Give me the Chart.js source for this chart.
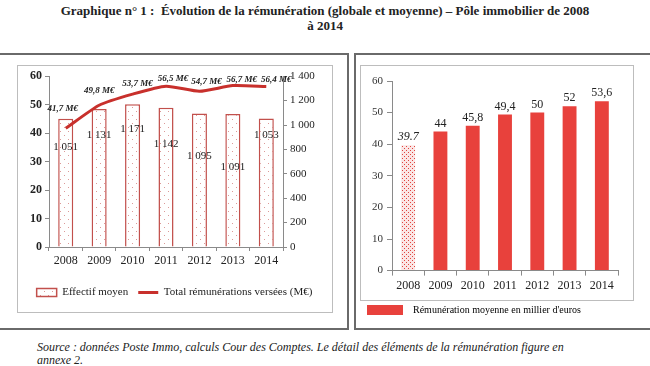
<!DOCTYPE html>
<html lang="fr">
<head>
<meta charset="utf-8">
<title>Évolution de la rémunération – Pôle immobilier</title>
<script src="https://cdn.jsdelivr.net/npm/chart.js@4.4.0/dist/chart.umd.min.js"></script>
<style>
  * { box-sizing: border-box; }
  body { margin: 0; width: 650px; height: 366px; background: #fff; position: relative; overflow: hidden; font-family: "Liberation Serif", "DejaVu Serif", serif; color: #222; }
  .title { position: absolute; top: 3px; left: 0; width: 650px; text-align: center; font-weight: bold; font-size: 13px; line-height: 15px; }
  .outer { position: absolute; border: 2px solid #6a6a6a; }
  .inner { position: absolute; border: 1px solid #bdbdbd; pointer-events: none; }
  .wrap { position: absolute; }
  .source { position: absolute; left: 37px; top: 341px; font-style: italic; font-size: 12px; line-height: 13px; }
</style>
</head>
<body>
<div class="title">Graphique n° 1 :&nbsp; Évolution de la rémunération (globale et moyenne) – Pôle immobilier de 2008<br>à 2014</div>

<div class="outer" style="left:-5px;top:53px;width:354px;height:277px;"></div>
<div class="outer" style="left:354px;top:53px;width:300px;height:277px;"></div>
<div class="inner" style="left:17px;top:65px;width:316px;height:248px;"></div>
<div class="inner" style="left:360px;top:65px;width:274px;height:236px;"></div>

<div class="wrap" style="left:18px;top:66px;width:313px;height:245px;"><canvas id="chartGauche"></canvas></div>
<div class="wrap" style="left:358px;top:66px;width:280px;height:259px;"><canvas id="chartDroite"></canvas></div>

<div class="source">Source : données Poste Immo, calculs Cour des Comptes. Le détail des éléments de la rémunération figure en<br>annexe 2.</div>

<script>
  // --- DONNEES ---
  const annees = ["2008", "2009", "2010", "2011", "2012", "2013", "2014"];
  const effectifMoyen = [1051, 1131, 1171, 1142, 1095, 1091, 1053];
  const totalRemunerations = [41.7, 49.8, 53.7, 56.5, 54.7, 56.7, 56.4];
  const remunerationMoyenne = [39.7, 44, 45.8, 49.4, 50, 52, 53.6];
  const ticksGauche = [0, 10, 20, 30, 40, 50, 60];
  const ticksEffectif = [0, 200, 400, 600, 800, 1000, 1200, 1400];

  // decalages des etiquettes (style, en px)
  const decalEffectif = [28, 26, 25, 36, 43, 53, 17];
  const decalTotalX = [-3, 0, 5, 7, 7, 9, 10];
  const decalTotalY = [-20, -15, -10, -7, -10, -6, -7];

  const SERIF = "'Liberation Serif', 'DejaVu Serif', serif";
  const ROUGE_LIGNE = "#c8302c";
  const ROUGE_BORD = "#c2504c";
  const ROUGE_BARRE = "#e8413c";
  const GRIS_AXE = "#8a8a8a";

  const milliers = (v) => String(v).replace(/\B(?=(\d{3})+(?!\d))/g, " ");
  const virgule = (v) => String(v).replace(".", ",");

  // --- MOTIFS ---
  function motif(ctx, w, h, fond, couleur, points) {
    const c = document.createElement("canvas");
    c.width = w;
    c.height = h;
    const g = c.getContext("2d");
    g.fillStyle = fond;
    g.fillRect(0, 0, w, h);
    g.fillStyle = couleur;
    points.forEach(([x, y]) => g.fillRect(x, y, 1, 1));
    return ctx.createPattern(c, "repeat");
  }

  // --- PLUGIN ETIQUETTES ---
  const etiquettes = {
    id: "etiquettes",
    afterDatasetsDraw(chart, args, opts) {
      const { ctx } = chart;
      (opts.items || []).forEach((it) => {
        const meta = chart.getDatasetMeta(it.dataset);
        const data = chart.data.datasets[it.dataset].data;
        meta.data.forEach((el, j) => {
          ctx.save();
          ctx.font = typeof it.font === "function" ? it.font(j) : it.font;
          ctx.fillStyle = it.color;
          ctx.textAlign = "center";
          ctx.textBaseline = "middle";
          ctx.fillText(it.text(data[j], j), el.x + (it.dx ? it.dx[j] : 0), el.y + it.dy[j]);
          ctx.restore();
        });
      });
    },
  };

  const axeBase = {
    grid: { drawOnChartArea: false, tickLength: 4, color: GRIS_AXE },
    border: { color: GRIS_AXE },
  };

  // --- GRAPHIQUE GAUCHE ---
  const ctxG = document.getElementById("chartGauche").getContext("2d");
  const motifEffectif = motif(ctxG, 8, 8, "#ffffff", "#dc9a98", [[2, 1], [6, 5]]);

  new Chart(ctxG, {
    data: {
      labels: annees,
      datasets: [
        {
          type: "line",
          label: "Total rémunérations versées (M€)",
          data: totalRemunerations,
          yAxisID: "y",
          borderColor: ROUGE_LIGNE,
          backgroundColor: ROUGE_LIGNE,
          borderWidth: 3,
          pointRadius: 0,
          tension: 0.2,
          pointStyle: "line",
          order: 0,
        },
        {
          type: "bar",
          label: "Effectif moyen",
          data: effectifMoyen,
          yAxisID: "y1",
          backgroundColor: motifEffectif,
          borderColor: ROUGE_BORD,
          borderWidth: 1.5,
          categoryPercentage: 1,
          barPercentage: 0.45,
          pointStyle: "rect",
          order: 1,
        },
      ],
    },
    options: {
      responsive: true,
      maintainAspectRatio: false,
      animation: false,
      layout: { padding: { top: 9, left: 0, right: 0, bottom: 3 } },
      scales: {
        x: {
          ...axeBase,
          afterFit: (s) => { s.height = 30; },
          ticks: { font: { family: SERIF, size: 12 }, color: "#222", padding: 3 },
        },
        y: {
          ...axeBase,
          position: "left",
          min: 0,
          max: 60,
          afterBuildTicks: (s) => { s.ticks = ticksGauche.map((v) => ({ value: v })); },
          afterFit: (s) => { s.width = 31; },
          ticks: { font: { family: SERIF, size: 12, weight: "bold" }, color: "#222", padding: 3 },
        },
        y1: {
          ...axeBase,
          position: "right",
          min: 0,
          max: 1400,
          afterBuildTicks: (s) => { s.ticks = ticksEffectif.map((v) => ({ value: v })); },
          afterFit: (s) => { s.width = 48; },
          ticks: { font: { family: SERIF, size: 11 }, color: "#222", padding: 3, callback: (v) => milliers(v) },
        },
      },
      plugins: {
        tooltip: { enabled: false },
        legend: {
          position: "bottom",
          reverse: true,
          labels: {
            usePointStyle: true,
            pointStyleWidth: 20,
            boxHeight: 8,
            padding: 10,
            color: "#222",
            font: { family: SERIF, size: 11 },
          },
        },
        etiquettes: {
          items: [
            {
              dataset: 1,
              font: `11px ${SERIF}`,
              color: "#222",
              dy: decalEffectif,
              text: (v) => milliers(v),
            },
            {
              dataset: 0,
              font: `italic bold 9px ${SERIF}`,
              color: "#222",
              dx: decalTotalX,
              dy: decalTotalY,
              text: (v) => virgule(v) + " M€",
            },
          ],
        },
      },
    },
    plugins: [etiquettes],
  });

  // --- GRAPHIQUE DROITE ---
  const ctxD = document.getElementById("chartDroite").getContext("2d");
  const motifMoyenne = motif(ctxD, 4, 4, "#fbe6e5", "#e0443f", [[0, 0], [2, 2]]);

  new Chart(ctxD, {
    type: "bar",
    data: {
      labels: annees,
      datasets: [
        {
          label: "Rémunération moyenne en millier d'euros",
          data: remunerationMoyenne,
          backgroundColor: remunerationMoyenne.map((v, i) => (i === 0 ? motifMoyenne : ROUGE_BARRE)),
          borderWidth: 0,
          categoryPercentage: 1,
          barPercentage: 0.43,
        },
      ],
    },
    options: {
      responsive: true,
      maintainAspectRatio: false,
      animation: false,
      layout: { padding: { top: 15, left: 0, right: 20, bottom: 0 } },
      scales: {
        x: {
          grid: { drawOnChartArea: false, tickLength: 5, color: GRIS_AXE },
          border: { color: GRIS_AXE },
          ticks: { font: { family: SERIF, size: 12 }, color: "#222", padding: 3 },
        },
        y: {
          grid: { drawOnChartArea: false, tickLength: 5, color: GRIS_AXE },
          border: { color: GRIS_AXE },
          min: 0,
          max: 60,
          afterBuildTicks: (s) => { s.ticks = ticksGauche.map((v) => ({ value: v })); },
          afterFit: (s) => { s.width = 34; },
          ticks: { font: { family: SERIF, size: 11 }, color: "#333", padding: 4 },
        },
      },
      plugins: {
        tooltip: { enabled: false },
        legend: {
          position: "bottom",
          align: "start",
          labels: {
            boxWidth: 36,
            boxHeight: 10,
            padding: 9,
            color: "#222",
            font: { family: SERIF, size: 10 },
            generateLabels: (chart) => [
              {
                text: "  " + chart.data.datasets[0].label,
                fillStyle: ROUGE_BARRE,
                strokeStyle: ROUGE_BARRE,
                lineWidth: 0,
                datasetIndex: 0,
              },
            ],
          },
        },
        etiquettes: {
          items: [
            {
              dataset: 0,
              font: (j) => (j === 0 ? `italic 12px ${SERIF}` : `12px ${SERIF}`),
              color: "#222",
              dy: remunerationMoyenne.map(() => -8),
              text: (v, j) => (j === 0 ? String(v) : virgule(v)),
            },
          ],
        },
      },
    },
    plugins: [etiquettes],
  });
</script>
</body>
</html>
